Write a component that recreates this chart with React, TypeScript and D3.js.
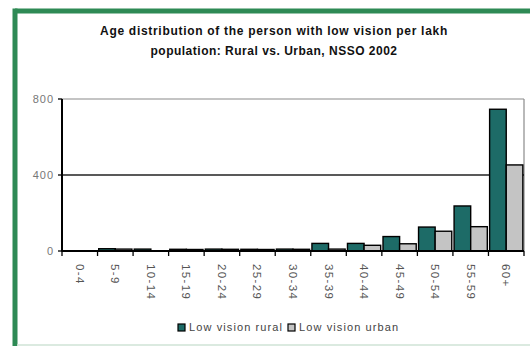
import React from "react";
import * as d3 from "d3";

const ageGroups = ["0-4", "5-9", "10-14", "15-19", "20-24", "25-29", "30-34", "35-39", "40-44", "45-49", "50-54", "55-59", "60+"];
const ruralValues = [0, 12, 10, 9, 10, 9, 10, 40, 40, 76, 126, 237, 746];
const urbanValues = [0, 10, 1, 8, 9, 8, 9, 10, 30, 38, 104, 128, 453];
const yTicks = [0, 400, 800];
const seriesNames = ["Low vision rural", "Low vision urban"];
const seriesColors = ["#1d6b67", "#c4c4c4"];

const W = 530;
const H = 346;
const plot = { left: 62, right: 524, top: 99, bottom: 251 };
const font = "'Liberation Sans', Arial, sans-serif";

export default function App() {
  const x = d3.scaleBand<string>().domain(ageGroups).range([plot.left, plot.right]).paddingInner(0).paddingOuter(0);
  const inner = d3.scaleBand<number>().domain([0, 1]).range([0, x.bandwidth()]).paddingOuter(0.07).paddingInner(0);
  const y = d3.scaleLinear().domain([0, 800]).range([plot.bottom, plot.top]);
  const series = [ruralValues, urbanValues];

  const boundaries = ageGroups.map((g) => x(g) as number).concat([plot.right]);

  return (
    <svg width={W} height={H} style={{ position: "absolute", left: 0, top: 0, background: "#fff" }}>
      {/* frame */}
      <line x1={15} y1={11} x2={W + 5} y2={11} stroke="#2e8a55" strokeWidth={5} />
      <line x1={15} y1={8.5} x2={15} y2={H} stroke="#2e8a55" strokeWidth={5} />
      <line x1={17} y1={345} x2={W} y2={345} stroke="#cfe3d6" strokeWidth={1.5} />

      {/* title */}
      <text x={274} y={35} textAnchor="middle" fontFamily={font} fontSize={12} fontWeight="bold" letterSpacing={0.7} fill="#111">
        Age distribution of the person with low vision per lakh
      </text>
      <text x={274} y={55} textAnchor="middle" fontFamily={font} fontSize={12} fontWeight="bold" letterSpacing={0.5} fill="#111">
        population: Rural vs. Urban, NSSO 2002
      </text>

      {/* plot border and gridlines */}
      <line x1={plot.left} y1={y(800)} x2={plot.right} y2={y(800)} stroke="#8a8a8a" strokeWidth={1.2} />
      <line x1={plot.right} y1={y(800)} x2={plot.right} y2={plot.bottom} stroke="#8a8a8a" strokeWidth={1.2} />
      {yTicks.filter((t) => t > 0 && t < 800).map((t) => (
        <line key={t} x1={plot.left} y1={y(t)} x2={plot.right} y2={y(t)} stroke="#222" strokeWidth={1.3} />
      ))}

      {/* bars */}
      {ageGroups.map((g, i) => (
        <g key={g}>
          {series.map((vals, s) => {
            const bx = (x(g) as number) + (inner(s) as number);
            const by = y(vals[i]);
            return (
              <rect
                key={s}
                x={bx}
                y={by}
                width={inner.bandwidth()}
                height={plot.bottom - by}
                fill={seriesColors[s]}
                stroke="#000"
                strokeWidth={1.4}
              />
            );
          })}
        </g>
      ))}

      {/* y axis */}
      <line x1={plot.left} y1={plot.top} x2={plot.left} y2={plot.bottom + 0.5} stroke="#000" strokeWidth={2} />
      {yTicks.map((t) => (
        <g key={t}>
          <line x1={plot.left - 4} y1={y(t)} x2={plot.left} y2={y(t)} stroke="#000" strokeWidth={1.3} />
          <text x={plot.left - 8} y={y(t) + 4} textAnchor="end" fontFamily={font} fontSize={11} letterSpacing={1} fill="#777">
            {t}
          </text>
        </g>
      ))}

      {/* x axis */}
      <line x1={plot.left} y1={plot.bottom} x2={plot.right} y2={plot.bottom} stroke="#000" strokeWidth={2} />
      {boundaries.map((bx, i) => (
        <line key={i} x1={bx} y1={plot.bottom} x2={bx} y2={plot.bottom + 5} stroke="#000" strokeWidth={1.3} />
      ))}
      {ageGroups.map((g) => {
        const cx = (x(g) as number) + x.bandwidth() / 2;
        return (
          <text
            key={g}
            transform={`translate(${cx - 4},${264}) rotate(90)`}
            fontFamily={font}
            fontSize={11.5}
            letterSpacing={1.4}
            fill="#555"
          >
            {g}
          </text>
        );
      })}

      {/* legend */}
      {seriesNames.map((name, s) => {
        const lx = s === 0 ? 178 : 288;
        return (
          <g key={name}>
            <rect x={lx} y={324} width={7} height={7} fill={seriesColors[s]} stroke="#000" strokeWidth={1.2} />
            <text x={lx + 11} y={331} fontFamily={font} fontSize={11} letterSpacing={1.1} fill="#444">
              {name}
            </text>
          </g>
        );
      })}
    </svg>
  );
}
